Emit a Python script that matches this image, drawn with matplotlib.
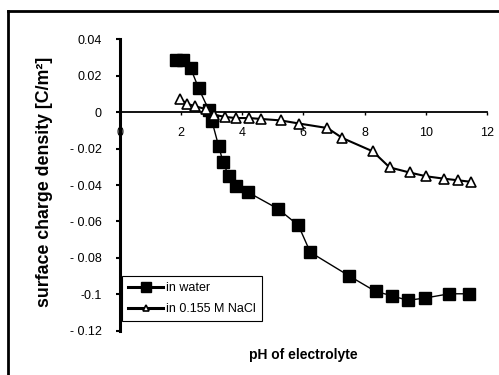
import matplotlib
matplotlib.use("Agg")
import matplotlib.pyplot as plt
from matplotlib.lines import Line2D

plt.rcParams['font.family'] = ['Liberation Sans', 'DejaVu Sans']

# data
ph_water = [1.85, 2.06, 2.32, 2.58, 2.91, 3.02, 3.24, 3.38, 3.56, 3.81, 4.18,
            5.17, 5.84, 6.23, 7.5, 8.36, 8.9, 9.41, 9.99, 10.77, 11.4]
q_water = [0.0288, 0.0288, 0.0243, 0.0133, 0.0014, -0.0050, -0.0188, -0.0273,
           -0.0349, -0.0404, -0.0438, -0.0530, -0.0621, -0.0769, -0.0899,
           -0.0984, -0.1008, -0.1033, -0.1020, -0.0997, -0.0997]
ph_nacl = [1.97, 2.2, 2.48, 2.81, 3.09, 3.45, 3.8, 4.24, 4.62, 5.26, 5.86,
           6.79, 7.28, 8.27, 8.82, 9.47, 10.02, 10.6, 11.06, 11.47]
q_nacl = [0.0074, 0.0047, 0.0032, 0.0018, -0.0014, -0.0026, -0.0032, -0.0032,
          -0.0037, -0.0045, -0.0062, -0.0087, -0.0142, -0.0215, -0.0303,
          -0.0331, -0.0352, -0.0365, -0.0374, -0.0382]
x_ticks = [0, 2, 4, 6, 8, 10, 12]
y_ticks = [0.04, 0.02, 0, -0.02, -0.04, -0.06, -0.08, -0.1, -0.12]
y_ticklabels = ["0.04", "0.02", "0", "- 0.02", "- 0.04", "- 0.06", "- 0.08", "-0.1", "- 0.12"]

fig = plt.figure(figsize=(4.99, 3.75), dpi=100)
ax = fig.add_axes([0.2395, 0.118, 0.7365, 0.777])

ax.plot(ph_water, q_water, color='black', lw=1.0, marker='s', ms=8,
        mfc='black', mec='black', label='in water', zorder=3)
ax.plot(ph_nacl, q_nacl, color='black', lw=1.5, marker='^', ms=7,
        mfc='white', mec='black', mew=1.2, label='in 0.155 M NaCl', zorder=4)

ax.set_xlim(0, 12)
ax.set_ylim(-0.12, 0.04)
ax.spines['left'].set_position(('data', 0))
ax.spines['bottom'].set_position(('data', 0))
ax.spines['right'].set_visible(False)
ax.spines['top'].set_visible(False)
ax.spines['left'].set_linewidth(2.2)
ax.spines['bottom'].set_linewidth(1.3)

ax.set_xticks(x_ticks)
ax.set_xticklabels([str(t) for t in x_ticks])
ax.set_yticks(y_ticks)
ax.set_yticklabels(y_ticklabels)
ax.tick_params(axis='x', direction='out', length=2, width=1, labelsize=9, pad=9)
ax.tick_params(axis='y', direction='out', length=3, width=1.5, labelsize=9, pad=10)

ax.set_ylabel('surface charge density [C/m²]', fontsize=12.8, fontweight='bold')
ax.yaxis.set_label_coords(-0.181, 0.51)
fig.text(0.608, 0.052, 'pH of electrolyte', ha='center', va='center', fontsize=10, fontweight='bold')

leg = ax.legend(loc='lower left', bbox_to_anchor=(0.007, 0.033), borderaxespad=0,
                fontsize=9, fancybox=False, edgecolor='black', framealpha=1,
                handlelength=2.8, handletextpad=0.2, labelspacing=0.7,
                borderpad=0.5)
leg.get_frame().set_linewidth(0.8)
for h in leg.legend_handles:
    h.set_linewidth(2.2)
leg.legend_handles[0].set_markersize(7)
leg.legend_handles[1].set_markersize(5)

# outer frame lines (top and left)
fig.add_artist(Line2D([0.016, 1.0], [0.971, 0.971], transform=fig.transFigure, color='black', lw=2))
fig.add_artist(Line2D([0.016, 0.016], [0.0, 0.971], transform=fig.transFigure, color='black', lw=2))

fig.savefig('out.png', dpi=100)
